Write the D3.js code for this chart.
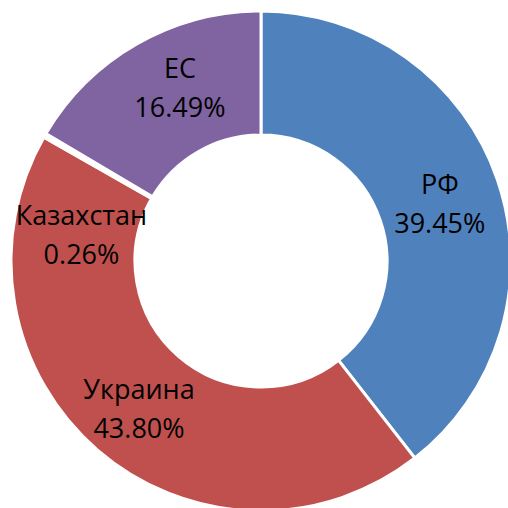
<!DOCTYPE html>
<html>
  <head>
    <meta charset="utf-8">
    <title>Donut</title>
    <script src="https://d3js.org/d3.v7.min.js"></script>
    <style>
      body { margin: 0; background: #fff; }
    </style>
  </head>
  <body>
    <div id="chart"></div>
    <script>
      // data
      const categories = ["РФ", "Украина", "Казахстан", "ЕС"];
      const shares = [39.45, 43.80, 0.26, 16.49];
      const pctLabels = ["39.45%", "43.80%", "0.26%", "16.49%"];
      const colors = ["#4F81BD", "#C0504D", "#ffffff", "#8064A2"];

      const width = 508, height = 508;
      const cx = 261, cy = 261;
      const outerR = 250, innerR = 126;

      const svg = d3.select("#chart")
        .append("svg")
        .attr("width", width)
        .attr("height", height);

      const g = svg.append("g")
        .attr("transform", `translate(${cx},${cy})`);

      const data = categories.map((c, i) => ({ name: c, value: shares[i], label: pctLabels[i], color: colors[i] }));

      const pie = d3.pie()
        .value(d => d.value)
        .sort(null);

      const arc = d3.arc()
        .innerRadius(innerR)
        .outerRadius(outerR);

      const arcs = pie(data);

      g.selectAll("path.slice")
        .data(arcs)
        .enter()
        .append("path")
        .attr("class", "slice")
        .attr("d", arc)
        .attr("fill", d => d.data.color)
        .attr("stroke", "#fff")
        .attr("stroke-width", 3);

      // labels at ring centroid; the tiny slice's label is pushed down, as in the original
      const nudge = { "Казахстан": [-17, 68], "ЕС": [12, -10], "Украина": [1, 6], "РФ": [1, 4] };

      const lab = g.selectAll("g.lab")
        .data(arcs)
        .enter()
        .append("g")
        .attr("class", "lab")
        .attr("transform", d => {
          const c = arc.centroid(d);
          const n = nudge[d.data.name] || [0, 0];
          return `translate(${c[0] + n[0]},${c[1] + n[1]})`;
        });

      lab.append("text")
        .attr("text-anchor", "middle")
        .attr("y", -10)
        .style("font-family", "'Open Sans', sans-serif")
        .style("font-size", "27px")
        .attr("fill", "#000")
        .text(d => d.data.name);

      lab.append("text")
        .attr("text-anchor", "middle")
        .attr("y", 29)
        .style("font-family", "'Open Sans', sans-serif")
        .style("font-size", "27px")
        .attr("fill", "#000")
        .text(d => d.data.label);
    </script>
  </body>
</html>
